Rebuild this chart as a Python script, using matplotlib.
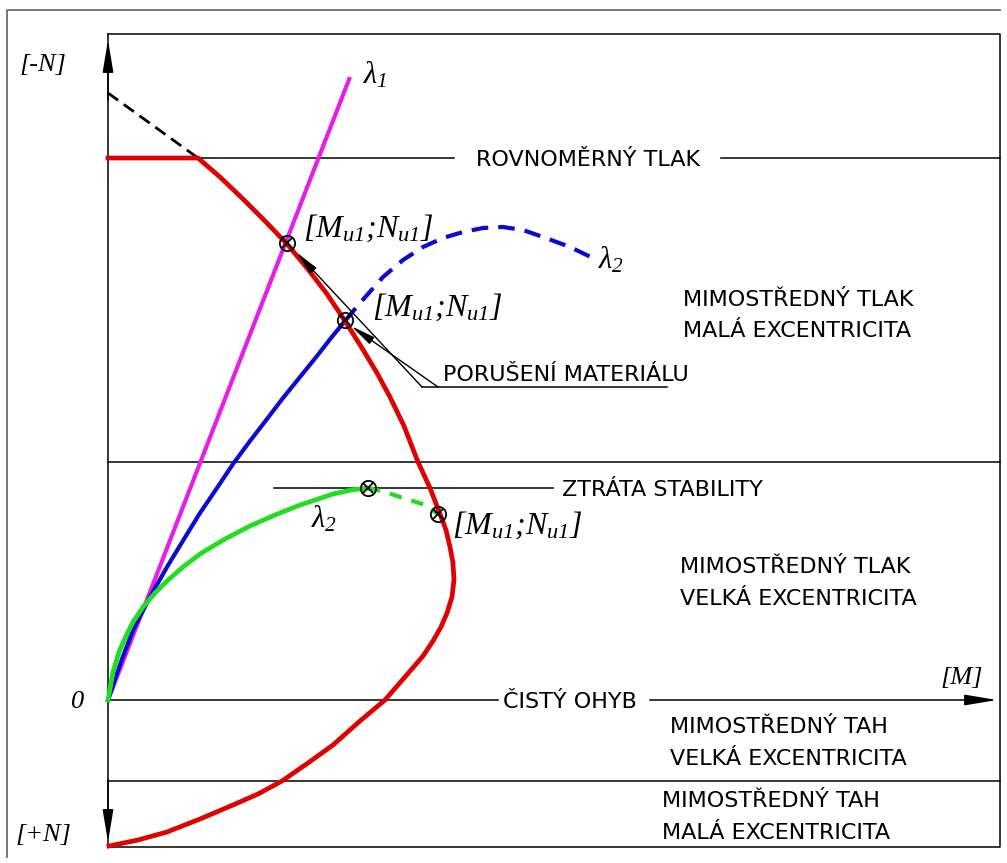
import matplotlib
matplotlib.use("Agg")
import matplotlib.pyplot as plt

# Fonts: plain labels in a sans face, symbols in italic serif
plt.rcParams['font.family'] = ['DejaVu Sans']
plt.rcParams['mathtext.fontset'] = 'custom'
plt.rcParams['mathtext.rm'] = 'Liberation Serif:italic'
plt.rcParams['mathtext.it'] = 'Liberation Serif:italic'

# Interaction diagram (M, N), compression N positive upwards
red_M = [0, 90, 112, 135, 157, 179, 199, 219, 237, 254, 269, 282, 296, 310, 322,
         332, 338, 342, 345, 346, 344, 339, 333, 325, 315, 303, 290, 277, 252,
         225, 200, 174, 150, 125, 92, 59, 30, 1]
red_N = [542, 542, 523, 501, 479, 456, 432, 406, 379, 352, 327, 303, 274, 238, 212,
         186, 170, 153, 137, 120, 103, 87, 73, 59, 44, 30, 15, 0, -21,
         -45, -63, -81, -94, -105, -119, -132, -140, -146]

# extension of the upper branch past the plastic limit
ext_M = [0, 90]
ext_N = [607, 542]

# load path lambda_1 (straight)
mag_M = [0, 242]
mag_N = [0, 623]

# load path lambda_2, slender member reaching material failure
blue_M = [0, 7, 14, 25, 42, 59, 76, 92, 109, 125, 142, 159, 175, 192, 209, 223, 237]
blue_N = [0, 21, 41, 70, 103, 133, 161, 187, 212, 236, 259, 281, 302, 323, 344, 362, 379]
blue_dash_M = [237, 252, 275, 295, 315, 335, 355, 375, 395, 415, 435, 462, 489]
blue_dash_N = [379, 397, 423, 440, 453, 462, 468, 472, 473, 470, 463, 453, 440]

# load path lambda_2, loss of stability
green_M = [0, 5, 11, 18, 25, 35, 47, 59, 75, 92, 117, 142, 167, 192, 210, 225, 243, 260]
green_N = [0, 28, 48, 64, 78, 93, 107, 119, 133, 146, 161, 174, 185, 195, 201, 206, 210, 212]
green_dash_M = [260, 277, 292, 305, 317, 330]
green_dash_N = [212, 208, 203, 199, 195, 186]

# points [Mu1; Nu1]
pts_M = [179, 237, 260, 330]
pts_N = [457, 380, 212, 186]

# region boundaries
N_uniform = 542
N_mid = 238
N_stab = 212
N_tension = -81
M_max = 892
N_top = 666
N_bot = -147

# region captions, one entry per line: text, M, baseline N
region_text = [
    ("MIMOSTŘEDNÝ TLAK", 575, 394),
    ("MALÁ EXCENTRICITA", 575, 363),
    ("MIMOSTŘEDNÝ TLAK", 572, 127),
    ("VELKÁ EXCENTRICITA", 572, 95),
    ("MIMOSTŘEDNÝ TAH", 562, -33),
    ("VELKÁ EXCENTRICITA", 562, -65),
    ("MIMOSTŘEDNÝ TAH", 554, -107),
    ("MALÁ EXCENTRICITA", 554, -139),
]

fig = plt.figure(figsize=(10.07, 8.63), dpi=100)
ax = fig.add_axes([0, 0, 1, 1])
ax.set_xlim(-108, 899)
ax.set_ylim(-163, 700)
ax.axis('off')

thin = dict(color='black', lw=1.1)

# outer frame
ax.plot([-101, -101, 892], [-157, 690, 690], color='#777777', lw=1.4)

# drawing box
ax.plot([0, M_max, M_max, 0], [N_top, N_top, N_bot, N_bot], **thin)

# N axis with arrows both ways
ax.plot([0, 0], [N_bot, N_top], **thin)
arr = dict(arrowstyle='-|>,head_length=1.8,head_width=0.3', color='black',
           lw=1.1, shrinkA=0, shrinkB=0, mutation_scale=11)
ax.annotate('', xy=(0, 660), xytext=(0, 600), arrowprops=arr)
ax.annotate('', xy=(0, -142), xytext=(0, -80), arrowprops=arr)

# M axis, broken by its caption
ax.plot([0, 390], [0, 0], **thin)
ax.plot([542, 870], [0, 0], **thin)
ax.annotate('', xy=(889, 0), xytext=(860, 0), arrowprops=arr)

# horizontal boundaries
ax.plot([0, 346], [N_uniform, N_uniform], **thin)
ax.plot([613, M_max], [N_uniform, N_uniform], **thin)
ax.plot([0, M_max], [N_mid, N_mid], **thin)
ax.plot([166, 445], [N_stab, N_stab], **thin)
ax.plot([0, M_max], [N_tension, N_tension], **thin)

# curves
ax.plot(ext_M, ext_N, color='black', lw=2, dashes=(4.5, 2.5))
ax.plot(mag_M, mag_N, color='#e61ee6', lw=3, solid_capstyle='butt')
ax.plot(blue_M, blue_N, color='#0a0ad2', lw=3)
ax.plot(blue_dash_M, blue_dash_N, color='#0a0ad2', lw=3, dashes=(4, 2.4))
ax.plot(green_M, green_N, color='#22dd22', lw=3.4)
ax.plot(green_dash_M, green_dash_N, color='#22dd22', lw=3, dashes=(3, 2.4))
ax.plot(red_M, red_N, color='#e00000', lw=3.4, solid_joinstyle='round')

# failure points
ax.plot(pts_M, pts_N, 'o', ms=11, mfc='none', mec='black', mew=1.3)
ax.plot(pts_M, pts_N, 'x', ms=7.5, mec='black', mew=1.3)

# leader for material failure
ax.plot([314, 559], [313, 313], **thin)
ldr = dict(arrowstyle='-|>,head_length=1.5,head_width=0.25', color='black',
           lw=1.0, shrinkA=0, shrinkB=0, mutation_scale=10)
ax.annotate('', xy=(188, 448), xytext=(314, 313), arrowprops=ldr)
ax.annotate('', xy=(243, 374), xytext=(330, 313), arrowprops=ldr)

# captions on lines
cap = dict(fontsize=16, color='black')
ax.text(480, 534, "ROVNOMĚRNÝ TLAK", ha='center', va='baseline', **cap)
ax.text(335, 319, "PORUŠENÍ MATERIÁLU", ha='left', va='baseline', **cap)
ax.text(454, 204, "ZTRÁTA STABILITY", ha='left', va='baseline', **cap)
ax.text(395, -8, "ČISTÝ OHYB", ha='left', va='baseline', **cap)
for txt, m, n in region_text:
    ax.text(m, n, txt, ha='left', va='baseline', **cap)

# symbols
sym = dict(family='Liberation Serif', style='italic', fontsize=23, color='black')
label = r'[M$_{u1}$;N$_{u1}$]'
ax.text(195, 472, label, ha='left', va='center', **sym)
ax.text(264, 393, label, ha='left', va='center', **sym)
ax.text(344, 175, label, ha='left', va='center', **sym)
lam = dict(family='Liberation Serif', style='italic', fontsize=22, color='black')
ax.text(255, 625, r'$\lambda_1$', ha='left', va='center', **lam)
ax.text(490, 440, r'$\lambda_2$', ha='left', va='center', **lam)
ax.text(203, 181, r'$\lambda_2$', ha='left', va='center', **lam)

serif = dict(family='Liberation Serif', style='italic', fontsize=19, color='black')
ax.text(-65, 635, "[-N]", ha='center', va='center', **serif)
ax.text(-65, -135, "[+N]", ha='center', va='center', **serif)
ax.text(854, 22, "[M]", ha='center', va='center', **serif)
ax.text(-30, -2, "0", ha='center', va='center', **serif)

fig.savefig("out.png", dpi=100)
